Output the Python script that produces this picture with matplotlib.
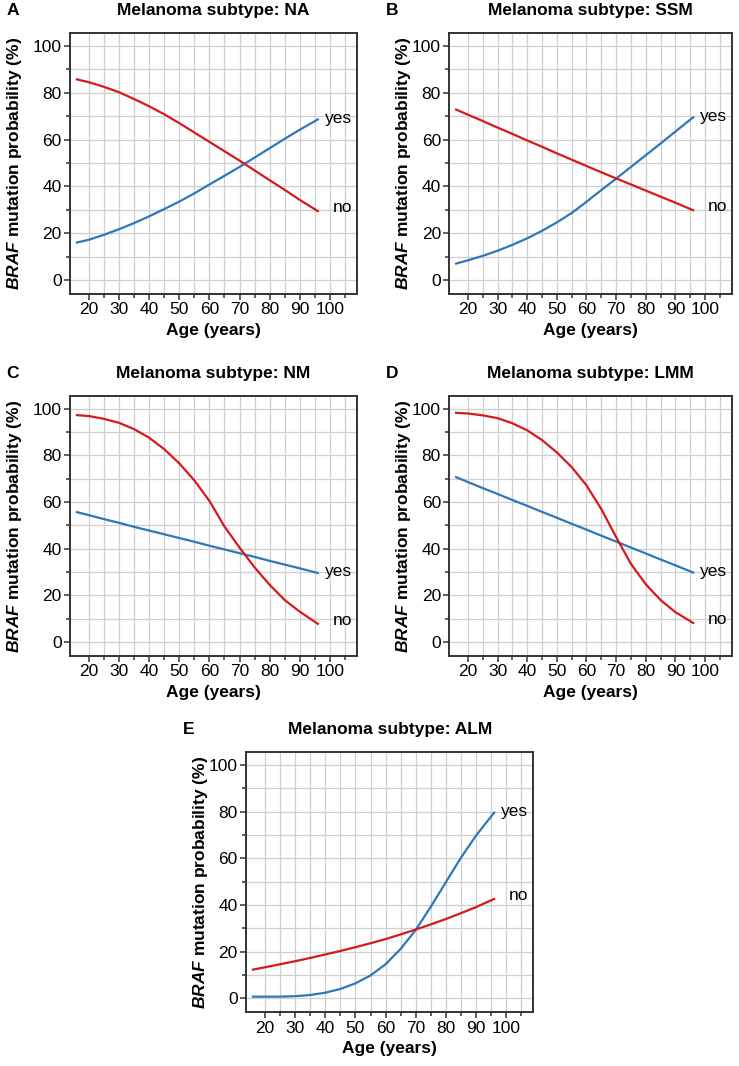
import matplotlib
matplotlib.use("Agg")
import matplotlib.pyplot as plt
from matplotlib.ticker import FixedLocator

plt.rcParams["font.family"] = ["Liberation Sans", "DejaVu Sans"]
plt.rcParams["mathtext.fontset"] = "custom"
plt.rcParams["mathtext.it"] = "Liberation Sans:bold:italic"
plt.rcParams["mathtext.rm"] = "Liberation Sans:bold"

# --- dados (idade em anos, probabilidade em %) ---
idade = [16, 20, 25, 30, 35, 40, 45, 50, 55, 60, 65, 70, 75, 80, 85, 90, 96]

na_sim = [16.0, 17.2, 19.3, 21.7, 24.3, 27.2, 30.3, 33.5, 37.0, 40.8, 44.5, 48.3, 52.3, 56.3, 60.3, 64.2, 68.6]
na_nao = [85.7, 84.5, 82.5, 80.2, 77.3, 74.2, 70.8, 67.0, 63.0, 59.0, 55.0, 51.0, 46.8, 42.6, 38.5, 34.2, 29.4]

ssm_sim = [7.0, 8.4, 10.3, 12.5, 15.0, 17.8, 21.0, 24.6, 28.6, 33.4, 38.4, 43.3, 48.3, 53.3, 58.3, 63.4, 69.5]
ssm_nao = [72.8, 70.6, 67.9, 65.1, 62.4, 59.6, 56.9, 54.1, 51.4, 48.7, 46.0, 43.4, 40.8, 38.2, 35.6, 33.0, 29.8]

nm_sim = [55.7, 54.4, 52.7, 51.1, 49.4, 47.8, 46.2, 44.6, 43.0, 41.3, 39.7, 38.1, 36.5, 34.8, 33.2, 31.6, 29.6]
nm_nao = [97.3, 96.9, 95.7, 94.0, 91.3, 87.6, 82.7, 76.6, 69.3, 60.5, 49.5, 40.5, 32.0, 24.5, 18.0, 13.0, 7.8]

lmm_sim = [70.7, 68.6, 66.0, 63.5, 60.9, 58.4, 55.8, 53.3, 50.7, 48.2, 45.6, 43.1, 40.5, 38.0, 35.4, 32.9, 29.8]
lmm_nao = [98.3, 98.0, 97.2, 96.0, 93.8, 90.8, 86.6, 81.3, 75.0, 67.2, 57.0, 45.0, 33.5, 24.8, 18.0, 12.8, 8.2]

alm_sim = [0.7, 0.7, 0.7, 0.9, 1.4, 2.4, 4.0, 6.4, 9.8, 14.6, 21.2, 29.3, 39.3, 49.8, 60.3, 69.8, 79.6]
alm_nao = [12.3, 13.3, 14.6, 15.9, 17.3, 18.8, 20.3, 21.9, 23.6, 25.4, 27.4, 29.5, 31.7, 34.0, 36.5, 39.1, 42.6]

letras = ["A", "B", "C", "D", "E"]
subtipos = ["NA", "SSM", "NM", "LMM", "ALM"]
series_sim = [na_sim, ssm_sim, nm_sim, lmm_sim, alm_sim]
series_nao = [na_nao, ssm_nao, nm_nao, lmm_nao, alm_nao]

AZUL = "#2e78b7"
VERMELHO = "#d7191c"

fig = plt.figure(figsize=(7.39, 10.66), dpi=100)

# posições dos painéis (fração da figura)
posicoes = [
    [0.0947, 0.7242, 0.3884, 0.2448],
    [0.6080, 0.7242, 0.3821, 0.2448],
    [0.0947, 0.3846, 0.3884, 0.2439],
    [0.6080, 0.3846, 0.3821, 0.2439],
    [0.3329, 0.0504, 0.3888, 0.2439],
]
pos_ylabel = [-0.16, -0.128, -0.16, -0.128, -0.125]

for i in range(5):
    ax = fig.add_axes(posicoes[i])
    ax.plot(idade, series_sim[i], color=AZUL, lw=1.6, zorder=3)
    ax.plot(idade, series_nao[i], color=VERMELHO, lw=1.6, zorder=3)

    ax.text(98.3, series_sim[i][-1] + 0.5, "yes", fontsize=12.5, va="center", ha="left")
    ax.text(100.8, series_nao[i][-1] + 1.5, "no", fontsize=12.5, va="center", ha="left")

    ax.set_xlim(13.7, 109)
    ax.set_ylim(-6, 105.5)
    ax.xaxis.set_major_locator(FixedLocator([20, 30, 40, 50, 60, 70, 80, 90, 100]))
    ax.xaxis.set_minor_locator(FixedLocator([25, 35, 45, 55, 65, 75, 85, 95, 105]))
    ax.yaxis.set_major_locator(FixedLocator([0, 20, 40, 60, 80, 100]))
    ax.yaxis.set_minor_locator(FixedLocator([10, 30, 50, 70, 90]))

    ax.grid(True, which="both", color="#cfcfcf", lw=0.9, zorder=0)
    ax.tick_params(which="major", length=4, width=1.1, color="#333333", labelsize=12.5, pad=2)
    ax.tick_params(which="minor", length=3, width=1.1, color="#333333")
    for s in ax.spines.values():
        s.set_linewidth(1.4)
        s.set_color("#333333")

    ax.set_xlabel("Age (years)", fontsize=12.5, fontweight="bold", labelpad=4)
    ax.set_ylabel(r"$\mathit{BRAF}$ mutation probability (%)", fontsize=12.5, fontweight="bold")
    ax.yaxis.set_label_coords(pos_ylabel[i], 0.5)
    ax.set_title("Melanoma subtype: " + subtipos[i], fontsize=12.5, fontweight="bold", pad=13)

    # letra do painel
    x0 = posicoes[i][0]
    topo = posicoes[i][1] + posicoes[i][3]
    fig.text(x0 - 0.086, topo + 0.0215, letras[i], fontsize=12.5, fontweight="bold", va="center", ha="left")

fig.savefig("out.png", dpi=100)
